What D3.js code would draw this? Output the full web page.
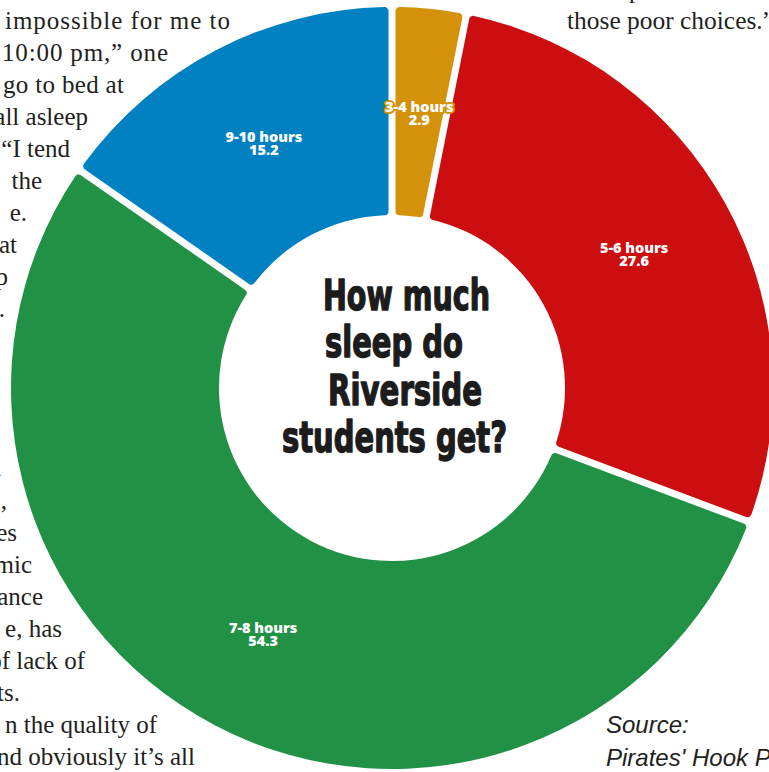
<!DOCTYPE html>
<html>
<head>
<meta charset="utf-8">
<script src="https://cdn.jsdelivr.net/npm/d3@7"></script>
<style>
  body { margin: 0; background: #fff; }
  svg { display: block; }
</style>
</head>
<body>
<script>
// survey results, clockwise from 12 o'clock
const categories = ["3-4 hours", "5-6 hours", "7-8 hours", "9-10 hours"];
const values = [2.9, 27.6, 54.3, 15.2];
const sliceColors = ["#d4920b", "#cc0e11", "#219245", "#0181c2"];

const titleLines = ["How much", "sleep do", "Riverside", "students get?"];
const sourceLines = ["Source:", "Pirates' Hook P"];

// newspaper copy that wraps round the graphic
const copyLeft = ["impossible for me to", "10:00 pm,\u201d one", "go to bed at", "all asleep",
  "\u201cI tend", "the", "e.", "at", "p", ".", "", "", "", "", ".", ",", "es", "mic", "ance",
  "e, has", "of lack of", "ts.", "n the quality of", "nd obviously it\u2019s all"];
const copyLeftEnds = [230, 168, 124, 88, 70, 42, 27, 17, 8, 5, 0, 0, 0, 0, 2, 7, 17, 32, 43,
  62, 85, 20, 157, 195];
const copyRight = ["those poor choices.\u201d"];

(function(){
  const width = 769, height = 772;
  const cx = 392, cy = 388;
  const outerR = 381, innerR = 173;

  const svg = d3.select("body").append("svg")
      .attr("width", width)
      .attr("height", height);

  // body copy
  const copy = svg.append("g")
      .attr("font-family", "'Liberation Serif', 'Times New Roman', serif")
      .attr("font-size", 25)
      .attr("fill", "#231f20");

  copy.selectAll("text.left")
    .data(copyLeft.map((t, i) => ({t: t, end: copyLeftEnds[i], y: 29 + 32 * i})).filter(d => d.t))
    .join("text")
      .attr("class", "left")
      .attr("x", d => d.end)
      .attr("y", d => d.y)
      .attr("text-anchor", "end")
      .text(d => d.t);

  // the first lines are justified wider
  const starts = [5, 2, 3];
  copy.selectAll("text.left")
    .filter((d, i) => i < 3)
      .attr("text-anchor", "start")
      .attr("x", (d, i) => starts[i])
      .attr("textLength", (d, i) => d.end - starts[i])
      .attr("lengthAdjust", "spacing");

  copy.append("text").attr("x", 629).attr("y", -2).text("p");
  copy.append("text").attr("x", 567).attr("y", 29)
      .attr("textLength", 207)
      .attr("lengthAdjust", "spacingAndGlyphs")
      .text(copyRight[0]);

  // donut
  const pie = d3.pie().sort(null).value(d => d)
      .padAngle(0.0167);
  const arc = d3.arc()
      .innerRadius(innerR)
      .outerRadius(outerR)
      .cornerRadius(4);
  const arcs = pie(values);

  const g = svg.append("g").attr("transform", `translate(${cx},${cy})`);

  g.selectAll("path")
    .data(arcs)
    .join("path")
      .attr("d", arc)
      .attr("fill", (d, i) => sliceColors[i]);

  const labels = g.selectAll("text.lbl")
    .data(arcs)
    .join("text")
      .attr("class", "lbl")
      .attr("transform", d => `translate(${arc.centroid(d)})`)
      .attr("text-anchor", "middle")
      .attr("font-family", "'Open Sans', 'DejaVu Sans', sans-serif")
      .attr("font-weight", 800)
      .attr("font-size", 14.5)
      .attr("fill", "#fff")
      .attr("stroke", (d, i) => sliceColors[i])
      .attr("stroke-width", 4)
      .attr("stroke-linejoin", "round")
      .attr("paint-order", "stroke");

  labels.append("tspan").attr("x", 0).attr("y", 0).text((d, i) => categories[i]);
  labels.append("tspan").attr("x", 0).attr("y", 13).text(d => d.value.toFixed(1));

  // title in the hole
  const titleX = [323, 325, 328, 282];
  const titleW = [167, 138, 154, 225];
  svg.append("g")
      .attr("font-family", "'Liberation Sans Narrow', 'DejaVu Sans Condensed', sans-serif")
      .attr("font-weight", 700)
      .attr("font-size", 43)
      .attr("fill", "#1c1c1c")
      .attr("stroke", "#1c1c1c")
      .attr("stroke-width", 1.4)
      .attr("stroke-linejoin", "round")
    .selectAll("text")
    .data(titleLines)
    .join("text")
      .attr("x", (d, i) => titleX[i])
      .attr("y", (d, i) => 310 + 47.3 * i)
      .attr("textLength", (d, i) => titleW[i])
      .attr("lengthAdjust", "spacingAndGlyphs")
      .text(d => d);

  // source note
  svg.append("g")
      .attr("font-family", "'Liberation Sans', Arial, sans-serif")
      .attr("font-style", "italic")
      .attr("font-size", 24)
      .attr("fill", "#231f20")
    .selectAll("text")
    .data(sourceLines)
    .join("text")
      .attr("x", 606)
      .attr("y", (d, i) => 733 + 33 * i)
      .text(d => d);
})();
</script>
</body>
</html>
